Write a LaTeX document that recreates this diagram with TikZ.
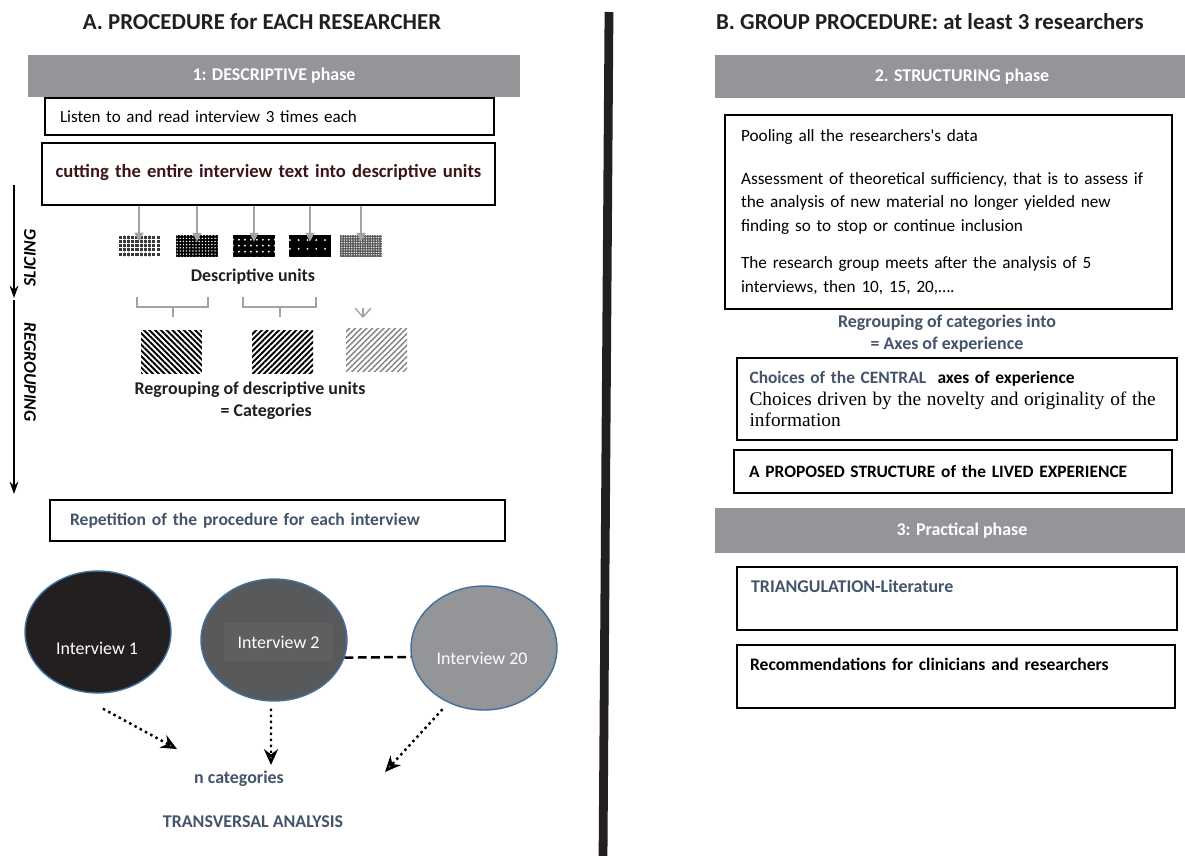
\documentclass[tikz,border=0pt]{standalone}
\usepackage{fontspec}
\setmainfont{Carlito}
\newfontfamily\timesfont{Liberation Serif}
\usetikzlibrary{arrows.meta}
\usetikzlibrary{shapes.geometric}
\usetikzlibrary{patterns.meta}

\definecolor{bargray}{HTML}{939598}
\definecolor{slate}{HTML}{44546A}
\definecolor{maroon}{HTML}{3C1518}
\definecolor{ivdark}{HTML}{231F20}
\definecolor{ivmid}{HTML}{58595B}
\definecolor{ivlabel}{HTML}{5F5E60}
\definecolor{ivlight}{HTML}{939598}
\definecolor{ivborder}{HTML}{41719C}
\definecolor{arrgray}{HTML}{A3A3A3}

\begin{document}
\begin{tikzpicture}[x=0.02cm,y=-0.02cm]
\fill[white] (0,0) rectangle (1185,855);
\useasboundingbox (0,0) rectangle (1185,855);

% headings
\begin{scope}[every node/.style={font=\bfseries\fontsize{13}{15}\selectfont,text=ivdark}]
    \node (headA) at (262,22) {A. PROCEDURE for EACH RESEARCHER};
    \node (headB) at (930,22) {B. GROUP PROCEDURE: at least 3 researchers};
\end{scope}
\draw[line width=5pt,ivdark] (609,12) -- (603,860);

% phase bars
\begin{scope}[every node/.style={fill=bargray,text=white,inner sep=0pt,
              font=\bfseries\fontsize{10.2}{12}\selectfont,minimum height=0.84cm}]
    \node (bar1) at (274,76) [minimum width=9.84cm] {1: DESCRIPTIVE phase};
    \node (bar2) at (962,76.5) [minimum width=9.9cm,minimum height=0.86cm] {2. STRUCTURING phase};
    \node (bar3) at (962,530.5) [minimum width=9.9cm,minimum height=0.9cm] {3: Practical phase};
\end{scope}

% boxes
\begin{scope}[every node/.style={draw,line width=1.4pt,inner xsep=0pt,inner ysep=0pt,align=left,
              font=\fontsize{9.7}{12}\selectfont}]
    \node (listen) at (269.5,116.5) [minimum width=8.98cm,minimum height=0.74cm,text width=8.38cm]
        {Listen to and read interview 3 times each};
    \node (cut) at (268.5,174) [minimum width=9.06cm,minimum height=1.24cm,text width=9cm,align=center,
        font=\bfseries\fontsize{10.6}{12}\selectfont,text=maroon]
        {\raisebox{3pt}{cutting the entire interview text into descriptive units}};
    \node (repeat) at (277.5,520.5) [minimum width=9.1cm,minimum height=0.82cm,text width=8.3cm,
        font=\bfseries\fontsize{10}{12}\selectfont,text=slate]
        {Repetition of the procedure for each interview};
    \node (pool) at (948.5,212) [minimum width=8.94cm,minimum height=3.88cm,text width=8.3cm,
        font=\fontsize{9.8}{13.6}\selectfont]
        {Pooling all the researchers\textquotesingle s data\\[10.8pt]
         Assessment of theoretical sufficiency, that is to assess if\\
         the analysis of new material no longer yielded new\\
         finding so to stop or continue inclusion\\[7.4pt]
         The research group meets after the analysis of 5\\
         interviews, then 10, 15, 20,\dots.};
    \node (central) at (957,399) [minimum width=8.8cm,minimum height=1.64cm,text width=8.3cm]
        {\bfseries\fontsize{9.9}{13}\selectfont{\color{slate}Choices of the CENTRAL}\ \ axes of experience\\
         \timesfont\mdseries\fontsize{11}{12.8}\selectfont Choices driven by the novelty and originality of the\\
         information};
    \node (structure) at (953,471.5) [minimum width=8.76cm,minimum height=0.86cm,text width=8.16cm,
        font=\bfseries\fontsize{9.9}{12}\selectfont]
        {A PROPOSED STRUCTURE of the LIVED EXPERIENCE};
    \node (triang) at (957,598.5) [minimum width=8.8cm,minimum height=1.26cm,text width=8.24cm,
        font=\bfseries\fontsize{10.2}{14.2}\selectfont,text=slate]
        {TRIANGULATION-Literature\\~};
    \node (recom) at (956,676.5) [minimum width=8.76cm,minimum height=1.26cm,text width=8.24cm,
        font=\bfseries\fontsize{10}{14.2}\selectfont]
        {Recommendations for clinicians and researchers\\~};
\end{scope}

% descriptive units
\begin{scope}[every node/.style={minimum width=0.84cm,minimum height=0.44cm,inner sep=0pt,pattern color=white}]
    \node (u1) at (139,246) [preaction={fill=gray!45!black},pattern={Hatch[distance=2.4pt,line width=0.6pt]}] {};
    \node (u2) at (197,246) [preaction={fill=black},pattern={Dots[distance=1.8pt,radius=0.45pt]}] {};
    \node (u3) at (254,246) [preaction={fill=black},pattern={Dots[distance=3.4pt,radius=0.6pt]}] {};
    \node (u4) at (310,246) [preaction={fill=black},pattern={Dots[distance=5pt,radius=0.6pt]}] {};
    \node (u5) at (361,246) [preaction={fill=gray!70!black},pattern={Dots[distance=1.4pt,radius=0.4pt]}] {};
\end{scope}
\begin{scope}[every node/.style={minimum width=1.22cm,minimum height=0.86cm,inner sep=0pt,fill=white}]
    \node (c1) at (171.5,351.5) [postaction={pattern={Lines[angle=-45,distance=2.3pt,line width=1.1pt]}}] {};
    \node (c2) at (282.5,351.5) [postaction={pattern={Lines[angle=45,distance=2.3pt,line width=1.1pt]}}] {};
    \node (c3) at (376.5,350) [postaction={pattern={Lines[angle=45,distance=2.3pt,line width=0.8pt]},pattern color=gray}] {};
\end{scope}

\begin{scope}[every node/.style={font=\bfseries\fontsize{10.2}{12.5}\selectfont,text=ivdark}]
    \node (units) at (253,277) {Descriptive units};
    \node (regroup) at (250,401) [align=left] {Regrouping of descriptive units\\\hspace*{49pt}= Categories};
    \node (axes) at (947,334) [align=center,text=slate] {Regrouping of categories into\\= Axes of experience};
    \node (ncat) at (239,779) [text=slate] {n categories};
    \node (transv) at (253,822) [text=slate] {TRANSVERSAL ANALYSIS};
\end{scope}

% slicing arrows
\begin{scope}[>={Triangle[length=5pt,width=5pt]},grey_arrow/.style={draw=arrgray,line width=0.8pt}]
    \foreach \u in {u1,u2,u3,u4,u5}
        \path [->] (\u |- cut.south) edge [grey_arrow] ([yshift=-0.14cm]\u.north);
\end{scope}
\draw[arrgray,line width=0.8pt] (137,297) -- (137,307) -- (208,307) -- (208,297)
    (173,307) -- (173,317);
\draw[arrgray,line width=0.8pt] (243,297) -- (243,307) -- (316,307) -- (316,297)
    (280,307) -- (280,317);
\coordinate (down3) at (363,318);
\draw[arrgray,line width=0.8pt,-{Straight Barb[length=5pt,width=9pt]}] ([yshift=-1.02cm]u5.south -| down3) -- (down3);

% side arrows
\coordinate (sl1) at (14,185);
\coordinate (sl2) at (14,298);
\coordinate (rg1) at (14,300);
\coordinate (rg2) at (14,494);
\begin{scope}[>={Stealth[length=7pt,width=5pt]}]
    \draw[->,line width=1pt] (sl1) -- (sl2);
    \draw[->,line width=1pt] (rg1) -- (rg2);
\end{scope}
\node (slicing) at (30,258) [rotate=90,font=\bfseries\itshape\fontsize{10}{12}\selectfont] {SLICING};
\node (regrouping) at (30,372) [rotate=-90,font=\bfseries\itshape\fontsize{10}{12}\selectfont] {REGROUPING};

% interviews
\begin{scope}[every node/.style={ellipse,draw=ivborder,line width=0.8pt,inner sep=0pt,
              minimum width=2.92cm,minimum height=2.44cm}]
    \node (i1) at (98,632) [fill=ivdark] {};
    \node (i2) at (274,640) [fill=ivmid] {};
    \node (i20) at (484,648) [fill=ivlight,minimum height=2.48cm] {};
\end{scope}
\begin{scope}[every node/.style={text=white,font=\fontsize{10.2}{12}\selectfont}]
    \node (l1) at (97,648) {Interview 1};
    \node (l2) at (278.5,642) [fill=ivlabel,minimum width=2.18cm,minimum height=0.76cm] {Interview 2};
    \node (l20) at (482,658) {Interview 20};
\end{scope}
\draw[dashed,line width=1.4pt,dash pattern=on 5pt off 2.5pt] (i2.-14) -- (i20.187);

\coordinate (t1) at (177,749);
\coordinate (t2) at (271,765);
\coordinate (t20) at (385,772);
\begin{scope}[>={Stealth[open,length=9pt,width=8pt]},
              dot_arrow/.style={draw=black,dotted,line width=1.4pt}]
    \path [->] ([xshift=0.1cm,yshift=-0.3cm]i1.south) edge [dot_arrow] (t1);
    \path [->] ([xshift=-0.06cm,yshift=-0.14cm]i2.south) edge [dot_arrow] (t2);
    \path [->] ([xshift=-0.18cm,yshift=-0.1cm]i20.240) edge [dot_arrow] (t20);
\end{scope}
\end{tikzpicture}
\end{document}
